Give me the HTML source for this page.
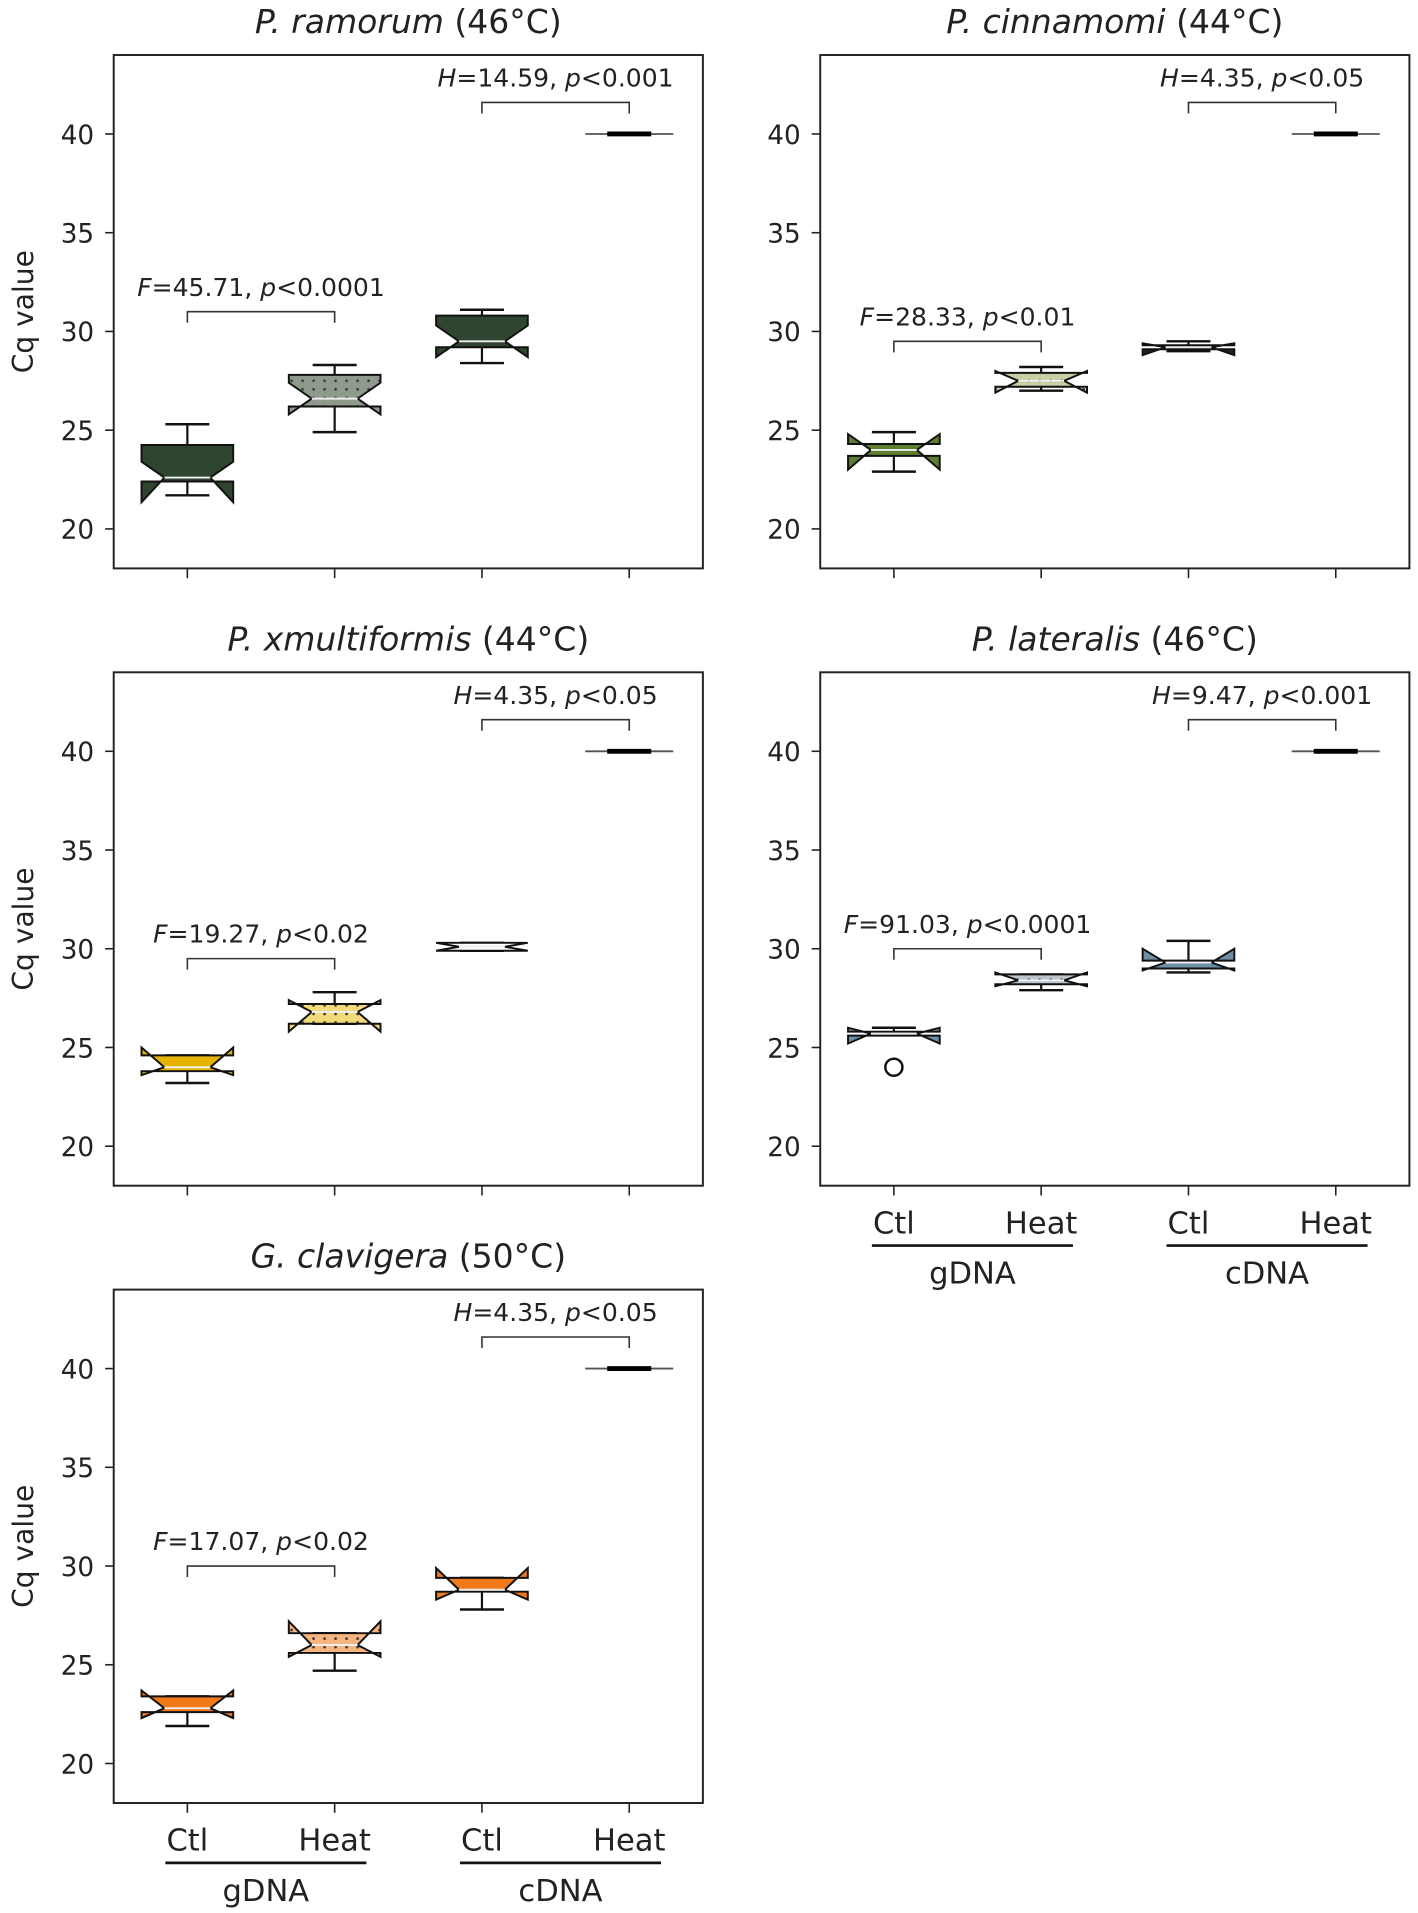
<!DOCTYPE html>
<html><head><meta charset="utf-8"><style>
html,body{margin:0;padding:0;background:#fff;}
svg{display:block;}
text{font-family:"DejaVu Sans","Liberation Sans",sans-serif;fill:#222;}
</style></head><body>
<svg id="fig" width="1418" height="1913" viewBox="0 0 1160 1565" xmlns="http://www.w3.org/2000/svg"></svg>
<script>
// ---- data ----
const panelTitles = ["P. ramorum","P. cinnamomi","P. xmultiformis","P. lateralis","G. clavigera"];
const panelTemps = ["(46°C)","(44°C)","(44°C)","(46°C)","(50°C)"];
const categories = ["Ctl","Heat","Ctl","Heat"];
const groups = ["gDNA","cDNA"];
const yTicks = [20,25,30,35,40];
// per panel: 4 boxes each [whiskerLo, q1, median, q3, whiskerHi]
const boxStats = [
  [[21.7,22.4,22.6,24.25,25.3],[24.9,26.2,26.6,27.8,28.3],[28.4,29.2,29.5,30.8,31.1],[40,40,40,40,40]],
  [[22.9,23.7,24.0,24.3,24.9],[27.0,27.2,27.5,27.9,28.2],[29.0,29.1,29.2,29.3,29.5],[40,40,40,40,40]],
  [[23.2,23.8,24.0,24.6,24.6],[26.2,26.2,26.8,27.2,27.8],[29.9,29.9,30.1,30.3,30.3],[40,40,40,40,40]],
  [[25.7,25.6,25.7,25.8,26.0],[27.9,28.2,28.4,28.7,28.7],[28.8,29.0,29.3,29.4,30.4],[40,40,40,40,40]],
  [[21.9,22.6,22.8,23.4,23.4],[24.7,25.6,26.0,26.6,26.6],[27.8,28.7,28.8,29.4,29.4],[40,40,40,40,40]]
];
// notch bounds [lo, hi]
const notches = [
  [[21.35,23.4],[25.8,27.4],[28.7,30.3],[40,40]],
  [[23.0,24.8],[26.9,28.0],[28.8,29.4],[40,40]],
  [[23.6,25.0],[25.8,27.4],[29.9,30.3],[40,40]],
  [[25.2,26.0],[28.1,28.8],[28.9,30.0],[40,40]],
  [[22.3,23.7],[25.4,27.2],[28.3,29.9],[40,40]]
];
const fliers = [[],[],[],[[24.0]],[]];
const fValues = ["45.71","28.33","19.27","91.03","17.07"];
const fP = ["0.0001","0.01","0.02","0.0001","0.02"];
const fBracketY = [31.0,29.5,29.5,30.0,30.0];
const hValues = ["14.59","4.35","4.35","9.47","4.35"];
const hP = ["0.001","0.05","0.05","0.001","0.05"];
const hBracketY = [41.6,41.6,41.6,41.6,41.6];
const darkColors = ["#2f4530","#5e7d2e","#e6b400","#6e8ea6","#f07a1a"];
const lightColors = ["#8e9a8c","#c6d0a4","#f2da7a","#b9c4cc","#f6b47e"];

// ---- layout ----
const W=482,H=420;
const panelPos=[[93,45],[671,45],[93,550],[671,550],[93,1055]];
const svg=document.getElementById('fig');
const NS='http://www.w3.org/2000/svg';
function mk(tag,attrs,parent){const e=document.createElementNS(NS,tag);for(const k in attrs)e.setAttribute(k,attrs[k]);(parent||svg).appendChild(e);return e;}

const defs=mk('defs',{});
darkColors.forEach((c,i)=>{
  const p=mk('pattern',{id:'dots'+i,width:9,height:7,patternUnits:'userSpaceOnUse'},defs);
  mk('rect',{width:9,height:7,fill:lightColors[i]},p);
  mk('circle',{cx:4.5,cy:3.5,r:1.1,fill:'#333'},p);
});

panelPos.forEach((pp,pi)=>{
  const [px,py]=pp;
  const g=mk('g',{});
  
  
  const ys=v=>py+H-(v-18)/(44-18)*H;
  const xs=i=>px+(i+0.5)*W/4;
  // title
  const t=mk('text',{x:px+W/2,y:py-18,'text-anchor':'middle','font-size':27},g);
  
  
  const ti=mk('tspan',{'font-style':'italic'},t);ti.textContent=panelTitles[pi]+' ';
  const tt=mk('tspan',{},t);tt.textContent=panelTemps[pi];
  // frame
  const fr=mk('rect',{x:px,y:py,width:W,height:H,fill:'none',stroke:'#222','stroke-width':1.6},g);
  
  
  // y ticks
  yTicks.forEach(v=>{
    mk('line',{x1:px-7,x2:px,y1:ys(v),y2:ys(v),stroke:'#222','stroke-width':1.3},g);
    const l=mk('text',{x:px-16,y:ys(v)+8,'text-anchor':'end','font-size':21.5},g);
    
    
    l.textContent=v;
  });
  if(pi%2===0){
    const yl=mk('text',{x:0,y:0,'text-anchor':'middle','font-size':23,transform:`translate(27,${py+H/2}) rotate(-90)`},g);
    
    
    yl.textContent='Cq value';
  }
  // x ticks
  categories.forEach((c,i)=>{
    mk('line',{x1:xs(i),x2:xs(i),y1:py+H,y2:py+H+8,stroke:'#222','stroke-width':1.3},g);
  });
  if(pi>=3){
    categories.forEach((c,i)=>{
      const l=mk('text',{x:xs(i),y:py+H+39,'text-anchor':'middle','font-size':25},g);
      
      
      l.textContent=c;
    });
    groups.forEach((gn,j)=>{
      const a=xs(2*j)-18,b=xs(2*j+1)+26;
      mk('line',{x1:a,x2:b,y1:py+H+49,y2:py+H+49,stroke:'#111','stroke-width':2.2},g);
      const l=mk('text',{x:(a+b)/2,y:py+H+80,'text-anchor':'middle','font-size':25},g);
      
      
      l.textContent=gn;
    });
  }
  // boxes
  boxStats[pi].forEach((s,i)=>{
    const [wl,q1,med,q3,wh]=s;const [nl,nh]=notches[pi][i];
    const cx=xs(i),hw=37.5;
    const bg=mk('g',{},g);
    
    
    if(i===3){
      mk('line',{x1:cx-36,x2:cx+36,y1:ys(med),y2:ys(med),stroke:'#555','stroke-width':1.5},bg);
      mk('line',{x1:cx-18,x2:cx+18,y1:ys(med),y2:ys(med),stroke:'#000','stroke-width':4},bg);
      return;
    }
    const fill=i===1?`url(#dots${pi})`:(i===2&&pi>0&&pi!==3&&pi!==4?(pi===2?'#fff':'#222'):darkColors[pi]);
    mk('line',{x1:cx,x2:cx,y1:ys(wh),y2:ys(q3),stroke:'#111','stroke-width':1.8},bg);
    mk('line',{x1:cx,x2:cx,y1:ys(q1),y2:ys(wl),stroke:'#111','stroke-width':1.8},bg);
    mk('line',{x1:cx-18,x2:cx+18,y1:ys(wh),y2:ys(wh),stroke:'#111','stroke-width':2},bg);
    mk('line',{x1:cx-18,x2:cx+18,y1:ys(wl),y2:ys(wl),stroke:'#111','stroke-width':2},bg);
    const L=cx-hw,R=cx+hw,iL=cx-hw/2,iR=cx+hw/2;
    const pts=[[L,q1],[R,q1],[R,nl],[iR,med],[R,nh],[R,q3],[L,q3],[L,nh],[iL,med],[L,nl]];
    mk('polygon',{points:pts.map(p=>p[0]+','+ys(p[1])).join(' '),fill:fill,stroke:'#111','stroke-width':1.6,'stroke-linejoin':'miter'},bg);
    mk('line',{x1:iL,x2:iR,y1:ys(med),y2:ys(med),stroke:'#eee','stroke-width':1.6},bg);
  });
  fliers[pi].forEach(v=>{
    const c=mk('circle',{cx:xs(0),cy:ys(v),r:7,fill:'none',stroke:'#111','stroke-width':2},g);
    
    
  });
  // brackets
  function bracket(i0,i1,yv,label,name){
    const y=ys(yv);
    const b=mk('path',{d:`M${xs(i0)},${y+9}V${y}H${xs(i1)}V${y+9}`,fill:'none',stroke:'#333','stroke-width':1.3},g);
    
    
    const t=mk('text',{x:(xs(i0)+xs(i1))/2,y:y-13,'text-anchor':'middle','font-size':20.5},g);
    
    
    label.forEach(([s,it])=>{const sp=mk('tspan',it?{'font-style':'italic'}:{},t);sp.textContent=s;});
  }
  bracket(0,1,fBracketY[pi],[['F',1],['='+fValues[pi]+', ',0],['p',1],['<'+fP[pi],0]],'f-test');
  bracket(2,3,hBracketY[pi],[['H',1],['='+hValues[pi]+', ',0],['p',1],['<'+hP[pi],0]],'h-test');
});
</script>
</body></html>
